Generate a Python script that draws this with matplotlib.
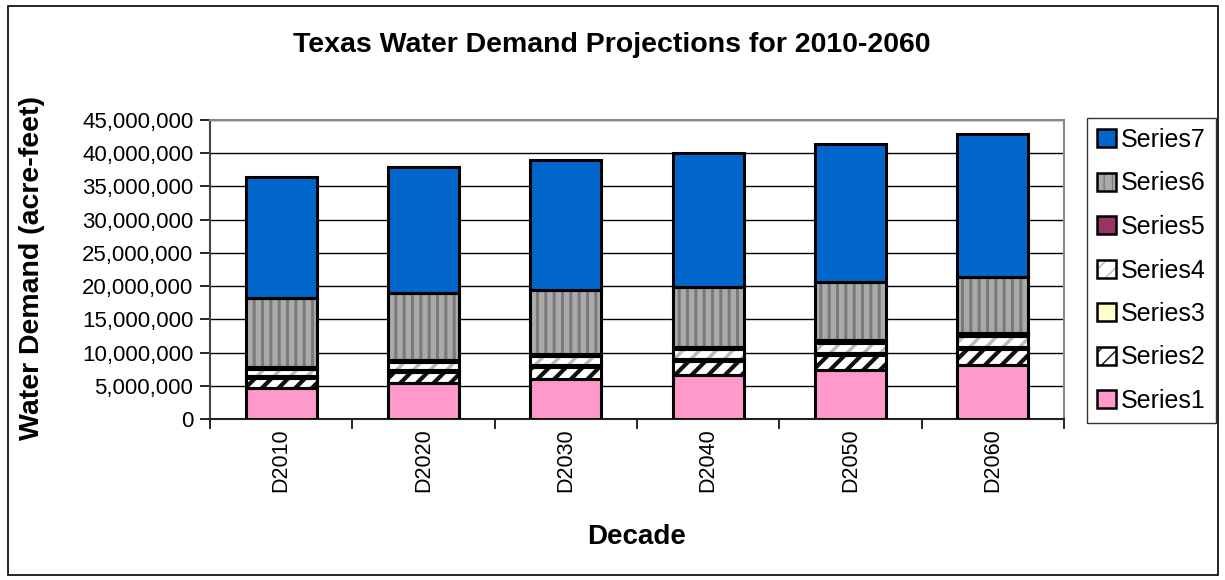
import numpy as np
import matplotlib
matplotlib.use("Agg")
import matplotlib.pyplot as plt
from matplotlib.patches import Patch, Rectangle
from matplotlib.ticker import FuncFormatter, FixedLocator

plt.rcParams['font.family'] = ['Liberation Sans', 'DejaVu Sans']

# datos (acre-feet)
decades = ["D2010", "D2020", "D2030", "D2040", "D2050", "D2060"]
series1 = [4620000, 5360000, 6020000, 6620000, 7370000, 8130000]
series2 = [1580000, 1670000, 1850000, 2110000, 2260000, 2360000]
series3 = [270000, 300000, 310000, 330000, 350000, 360000]
series4 = [1090000, 1230000, 1270000, 1480000, 1500000, 1690000]
series5 = [310000, 320000, 330000, 340000, 350000, 360000]
series6 = [10300000, 10020000, 9620000, 9020000, 8740000, 8520000]
series7 = [18300000, 19000000, 19580000, 20090000, 20770000, 21480000]

names = ["Series1", "Series2", "Series3", "Series4", "Series5", "Series6", "Series7"]
datos = [series1, series2, series3, series4, series5, series6, series7]

# relleno, color de trama, trama
estilos = [
    ("#FF99CC", None, None),
    ("#FFFFFF", "#111111", "//"),
    ("#FFFFCC", None, None),
    ("#FFFFFF", "#BBBBBB", "//"),
    ("#993366", None, None),
    ("#AAAAAA", "#7A7A7A", "||"),
    ("#0066CC", None, None),
]
grosor_trama = [0, 3.0, 0, 2.5, 0, 2.2, 0]

fig = plt.figure(figsize=(12.25, 5.8), dpi=100)
ax = fig.add_axes([210/1225, 1-419/580, 854/1225, 299/580])

x = np.arange(len(decades))
ancho = 0.5
base = np.zeros(len(decades))

for i in range(7):
    vals = np.array(datos[i], dtype=float)
    fc, hc, hatch = estilos[i]
    with plt.rc_context({'hatch.linewidth': max(grosor_trama[i], 0.5)}):
        if hatch:
            ax.bar(x, vals, ancho, bottom=base, color=fc, edgecolor=hc,
                   hatch=hatch, linewidth=0, zorder=3)
        else:
            ax.bar(x, vals, ancho, bottom=base, color=fc, linewidth=0, zorder=3)
    ax.bar(x, vals, ancho, bottom=base, fill=False, edgecolor="black",
           linewidth=2.2, zorder=4)
    base = base + vals

ax.set_xlim(-0.5, len(decades) - 0.5)
ax.set_ylim(0, 45000000)
ax.set_yticks(np.arange(0, 45000001, 5000000))
ax.yaxis.set_major_formatter(FuncFormatter(lambda v, p: f"{int(v):,}"))
ax.grid(axis='y', color='black', linewidth=1.0, zorder=0)

ax.set_xticks(x)
ax.set_xticklabels(decades, rotation=90, fontsize=15.5)
ax.tick_params(axis='x', length=0, pad=7)
ax.xaxis.set_minor_locator(FixedLocator(np.arange(-0.5, len(decades), 1)))
ax.tick_params(axis='x', which='minor', length=7, width=1.2, color='black')
ax.tick_params(axis='y', labelsize=16, length=7, width=1.2, pad=5)

ax.spines['left'].set_color('#444444')
ax.spines['left'].set_linewidth(1.5)
ax.spines['bottom'].set_color('#222222')
ax.spines['bottom'].set_linewidth(1.5)
ax.spines['top'].set_color('#888888')
ax.spines['right'].set_color('#888888')
ax.spines['top'].set_linewidth(1.5)
ax.spines['right'].set_linewidth(1.5)

fig.text(612/1225, 1-45/580, "Texas Water Demand Projections for 2010-2060",
         ha='center', va='center', fontsize=20.5, fontweight='bold')
fig.text(637/1225, 1-537/580, "Decade", ha='center', va='center',
         fontsize=20, fontweight='bold')
fig.text(32/1225, 1-268/580, "Water Demand (acre-feet)", ha='center',
         va='center', rotation=90, fontsize=20.5, fontweight='bold')

# leyenda (Series7 arriba): relleno con trama + borde negro
handles = []
for i in range(6, -1, -1):
    fc, hc, hatch = estilos[i]
    borde = Patch(facecolor='none', edgecolor='black', linewidth=1.8)
    if hatch:
        relleno = Patch(facecolor=fc, edgecolor=hc, hatch=hatch, linewidth=0)
    else:
        relleno = Patch(facecolor=fc, linewidth=0)
    handles.append((relleno, borde))
leg = fig.legend(handles=handles, labels=names[::-1], loc='upper left',
                 bbox_to_anchor=(1087/1225, 1-118/580), borderaxespad=0,
                 fontsize=18, frameon=True, fancybox=False, edgecolor='black',
                 handlelength=0.75, handleheight=0.75, handletextpad=0.2,
                 labelspacing=0.78, borderpad=0.4)
leg.get_frame().set_linewidth(1.0)

fig.patches.append(Rectangle((8/1225, 5/580), 1210/1225, 569/580,
                             transform=fig.transFigure, fill=False,
                             edgecolor='black', linewidth=1.2))

fig.savefig("out.png", dpi=100)
